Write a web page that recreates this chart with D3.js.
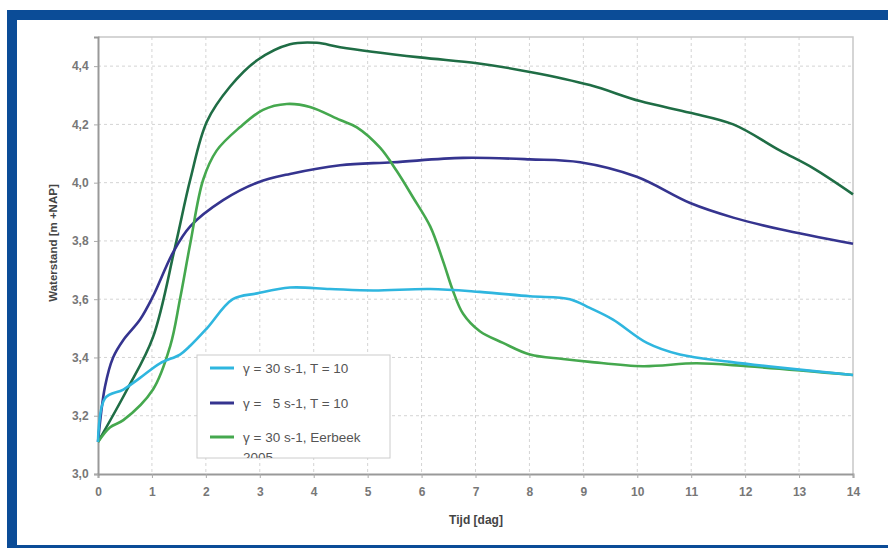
<!DOCTYPE html>
<html>
 <head>
  <title>Waterstand</title>
  <style>
  body {
   margin: 0;
   background: #fff;
   overflow: hidden;
  }
  svg {
   display: block;
   font-family: "Liberation Sans", Arial, sans-serif;
  }
  </style>
 </head>
 <body>
  <script src="https://cdnjs.cloudflare.com/ajax/libs/d3/7.8.3/d3.min.js"></script>
  <script>
   // tick labels
   const xTicks = [0, 1, 2, 3, 4, 5, 6, 7, 8, 9, 10, 11, 12, 13, 14];
   const yTicks = [3.0, 3.2, 3.4, 3.6, 3.8, 4.0, 4.2, 4.4];

   // series: [tijd (dag), waterstand (m +NAP)]
   const cyanSeries = [[0,3.11],[0.13,3.26],[0.47,3.29],[0.78,3.33],[1.15,3.38],[1.52,3.41],[1.71,3.44],[2.02,3.50],[2.5,3.60],[2.95,3.62],[3.56,3.64],[4.3,3.635],[5.1,3.63],[6.16,3.635],[7.08,3.625],[8.01,3.61],[8.75,3.60],[9.12,3.57],[9.55,3.53],[10.18,3.45],[10.79,3.41],[11.72,3.385],[12.65,3.365],[14,3.34]];
   const blueSeries = [[0,3.11],[0.13,3.30],[0.28,3.40],[0.47,3.46],[0.78,3.53],[1.02,3.61],[1.39,3.76],[1.71,3.85],[2.32,3.94],[2.95,4.00],[3.56,4.03],[4.49,4.06],[5.47,4.07],[6.77,4.085],[8.01,4.08],[8.94,4.07],[9.99,4.02],[10.98,3.93],[11.78,3.88],[12.65,3.84],[14,3.79]];
   const greenSeries = [[0,3.11],[0.22,3.16],[0.47,3.185],[1.02,3.29],[1.34,3.44],[1.52,3.60],[1.71,3.79],[1.95,4.01],[2.2,4.11],[2.63,4.19],[3.06,4.25],[3.5,4.27],[3.93,4.26],[4.49,4.215],[4.8,4.19],[5.23,4.12],[5.54,4.04],[5.84,3.95],[6.16,3.85],[6.4,3.73],[6.58,3.63],[6.77,3.55],[7.08,3.49],[7.51,3.45],[8.01,3.41],[8.62,3.395],[9.12,3.385],[10.1,3.37],[11.1,3.38],[12.03,3.37],[14,3.34]];
   const darkGreenSeries = [[0,3.11],[0.54,3.29],[1.02,3.47],[1.43,3.78],[1.71,4.01],[2.02,4.21],[2.45,4.33],[2.95,4.42],[3.56,4.475],[4.06,4.48],[4.49,4.465],[5.97,4.43],[7.03,4.41],[8.01,4.38],[9.12,4.335],[10.05,4.28],[10.98,4.24],[11.78,4.20],[12.65,4.11],[13.26,4.05],[14,3.96]];

   const legendLabels = ["\u03b3 = 30 s-1, T = 10", "\u03b3 =   5 s-1, T = 10", "\u03b3 = 30 s-1, Eerbeek"];

   const w = 888;
   const h = 548;
   const pLeft = 98, pRight = 853, pTop = 37, pBottom = 474;

   const svg = d3.select("body")
                 .append("svg")
                 .attr("width", w)
                 .attr("height", h);

   // blue frame (right side runs off the picture)
   svg.append("rect")
      .attr("x", 12)
      .attr("y", 15)
      .attr("width", 1000)
      .attr("height", 535)
      .attr("fill", "#fff")
      .attr("stroke", "#0b4c97")
      .attr("stroke-width", 10);

   const xScale = d3.scaleLinear()
                    .domain([0, 14])
                    .range([pLeft, pRight]);
   const yScale = d3.scaleLinear()
                    .domain([3.0, 4.5])
                    .range([pBottom, pTop]);

   // grid
   svg.append("g")
      .selectAll("line")
      .data(xTicks.slice(1, -1))
      .enter()
      .append("line")
      .attr("x1", d => xScale(d))
      .attr("x2", d => xScale(d))
      .attr("y1", pTop)
      .attr("y2", pBottom)
      .attr("stroke", "#d4d4d4")
      .attr("stroke-dasharray", "3,3");
   svg.append("g")
      .selectAll("line")
      .data(yTicks.slice(1))
      .enter()
      .append("line")
      .attr("x1", pLeft)
      .attr("x2", pRight)
      .attr("y1", d => yScale(d))
      .attr("y2", d => yScale(d))
      .attr("stroke", "#d4d4d4")
      .attr("stroke-dasharray", "3,3");

   // box top/right
   svg.append("path")
      .attr("d", "M" + pLeft + "," + pTop + "H" + pRight + "V" + pBottom)
      .attr("fill", "none")
      .attr("stroke", "#c8c8c8")
      .attr("stroke-width", 1.5);

   const fmt = d => d3.format(".1f")(d).replace(".", ",");

   const xAxis = d3.axisBottom(xScale).tickValues(xTicks).tickSize(4).tickFormat(d3.format("d"));
   const yAxis = d3.axisLeft(yScale).tickValues(yTicks).tickSize(4).tickFormat(fmt);

   const gx = svg.append("g")
      .attr("transform", "translate(0," + pBottom + ")")
      .call(xAxis);
   const gy = svg.append("g")
      .attr("transform", "translate(" + pLeft + ",0)")
      .call(yAxis);
   [gx, gy].forEach(g => {
    g.select(".domain").attr("stroke", "#999").attr("stroke-width", 2);
    g.selectAll(".tick line").attr("stroke", "#aaa");
    g.selectAll("text")
     .attr("fill", "#777")
     .attr("font-size", 12)
     .attr("font-weight", "bold")
     .attr("font-family", "'Liberation Sans', Arial, sans-serif");
   });
   gx.selectAll("text").attr("dy", "1.25em");
   gy.selectAll("text").attr("dx", "-0.2em");

   // axis titles
   svg.append("text")
      .attr("x", 476)
      .attr("y", 524)
      .attr("text-anchor", "middle")
      .attr("font-size", 12)
      .attr("font-weight", "bold")
      .attr("fill", "#444")
      .text("Tijd [dag]");
   svg.append("text")
      .attr("transform", "translate(57,243) rotate(-90)")
      .attr("text-anchor", "middle")
      .attr("font-size", 11.5)
      .attr("font-weight", "bold")
      .attr("fill", "#444")
      .text("Waterstand [m +NAP]");

   const line = d3.line()
                  .x(d => xScale(d[0]))
                  .y(d => yScale(d[1]))
                  .curve(d3.curveCatmullRom.alpha(0.5));

   const series = [
    {data: darkGreenSeries, color: "#1f6d45"},
    {data: blueSeries, color: "#35348f"},
    {data: greenSeries, color: "#45a84e"},
    {data: cyanSeries, color: "#2fb6df"}
   ];
   svg.append("g")
      .selectAll("path")
      .data(series)
      .enter()
      .append("path")
      .attr("d", d => line(d.data))
      .attr("fill", "none")
      .attr("stroke", d => d.color)
      .attr("stroke-width", 2.6);

   // legend
   svg.append("clipPath")
      .attr("id", "legclip")
      .append("rect")
      .attr("x", 197)
      .attr("y", 355)
      .attr("width", 193)
      .attr("height", 103);
   const legend = svg.append("g");
   legend.append("rect")
         .attr("x", 197)
         .attr("y", 355)
         .attr("width", 193)
         .attr("height", 103)
         .attr("fill", "#fff")
         .attr("stroke", "#ccc");
   const legendColors = ["#2fb6df", "#35348f", "#45a84e"];
   const ly = [368, 403, 437];
   legendLabels.forEach((t, i) => {
    legend.append("line")
          .attr("x1", 210)
          .attr("x2", 234)
          .attr("y1", ly[i])
          .attr("y2", ly[i])
          .attr("stroke", legendColors[i])
          .attr("stroke-width", 3);
    legend.append("text")
          .attr("x", 243)
          .attr("y", ly[i] + 5)
          .attr("font-size", 13.5)
          .attr("fill", "#555")
          .style("white-space", "pre")
          .text(t);
   });
   legend.append("text")
         .attr("x", 243)
         .attr("y", 462)
         .attr("font-size", 13.5)
         .attr("fill", "#555")
         .attr("clip-path", "url(#legclip)")
         .text("2005");
  </script>
 </body>
</html>
